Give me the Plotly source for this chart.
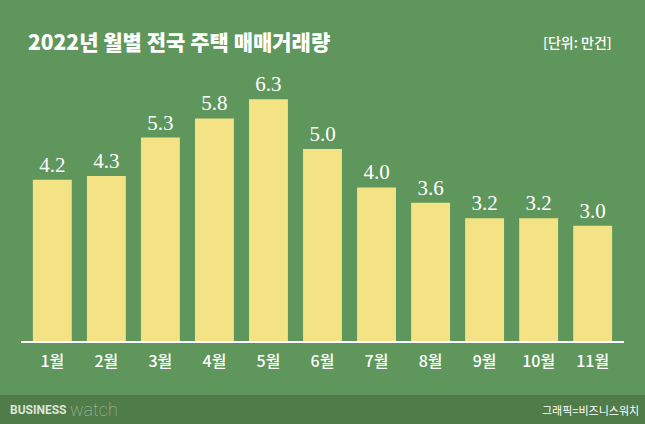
import plotly.graph_objects as go

months = ["1월", "2월", "3월", "4월", "5월", "6월", "7월", "8월", "9월", "10월", "11월"]
values = [4.2, 4.3, 5.3, 5.8, 6.3, 5.0, 4.0, 3.6, 3.2, 3.2, 3.0]

W, H = 645, 424
L, R, T, B = 21, 21, 80, 83
pw, ph = W - L - R, H - T - B

def px(x):
    return (x - L) / pw

def py(y):
    return (H - B - y) / ph

BG = "#5f965b"
FOOT = "#4f7c49"
BAR = "#f4e385"
KR = "Noto Sans CJK KR"

fig = go.Figure()
fig.add_trace(go.Bar(
    x=months, y=values,
    marker=dict(color=BAR, line=dict(width=0)),
    text=[f"{v:.1f}" for v in values],
    textposition="outside",
    textfont=dict(family="Liberation Serif", size=21, color="white"),
    cliponaxis=False,
    hoverinfo="skip",
))

fig.update_layout(
    width=W, height=H,
    margin=dict(l=L, r=R, t=T, b=B),
    paper_bgcolor=BG, plot_bgcolor=BG,
    bargap=0.28,
    showlegend=False,
    xaxis=dict(
        type="category",
        range=[-0.58, 10.58],
        showline=True, linecolor="white", linewidth=1.5,
        ticks="", showgrid=False,
        tickfont=dict(family=KR, size=16, color="white", weight=500),
        ticklabelstandoff=5,
    ),
    yaxis=dict(range=[0, 6.8], visible=False, showgrid=False),
    shapes=[dict(
        type="rect", xref="paper", yref="paper",
        x0=px(0), x1=px(W), y0=py(395), y1=py(H + 2),
        fillcolor=FOOT, line=dict(width=0), layer="below",
    )],
    annotations=[
        dict(text="2022년 월별 전국 주택 매매거래량", xref="paper", yref="paper",
             x=px(26), y=py(41), xanchor="left", yanchor="middle", showarrow=False,
             font=dict(family=KR, size=21, color="white", weight=900)),
        dict(text="[단위: 만건]", xref="paper", yref="paper",
             x=px(614), y=py(42), xanchor="right", yanchor="middle", showarrow=False,
             font=dict(family=KR, size=14, color="white", weight=500)),
        dict(text="<b>BUSINESS</b>", xref="paper", yref="paper",
             x=px(8), y=py(410), xanchor="left", yanchor="middle", showarrow=False,
             font=dict(family="Roboto", size=12, color="#dfe6db", weight=900)),
        dict(text="watch", xref="paper", yref="paper",
             x=px(68), y=py(409), xanchor="left", yanchor="middle", showarrow=False,
             font=dict(family="Roboto", size=18, color="#a9c2a3", weight=100)),
        dict(text="그래픽=비즈니스워치", xref="paper", yref="paper",
             x=px(641), y=py(410), xanchor="right", yanchor="middle", showarrow=False,
             font=dict(family=KR, size=11, color="white")),
    ],
)

fig.write_html("out.html")
